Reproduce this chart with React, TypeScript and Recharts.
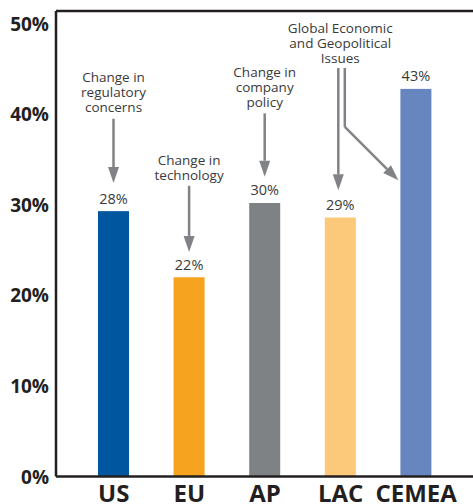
import { BarChart, Bar, XAxis, YAxis, ReferenceLine } from 'recharts';

const regions = ['US', 'EU', 'AP', 'LAC', 'CEMEA'];
const shares = [29.3, 22.0, 30.2, 28.6, 42.8];
const shareLabels = ['28%', '22%', '30%', '29%', '43%'];
const barColors = ['#00569f', '#f6a41f', '#7f8285', '#fcc87a', '#6786bf'];
const yTicks = [0, 10, 20, 30, 40, 50];
const Y_MAX = 51.4;

// callouts, heights in % units of the y axis
const notes = [
  { lines: ['Change in', 'regulatory', 'concerns'], textAt: 44.1, from: 39.5, to: 32.4, dx: 0 },
  { lines: ['Change in', 'technology'], textAt: 34.9, from: 32.1, to: 24.8, dx: 0 },
  { lines: ['Change in', 'company', 'policy'], textAt: 44.7, from: 40.1, to: 33.1, dx: 0 },
  { lines: ['Global Economic', 'and Geopolitical', 'Issues'], textAt: 49.5, from: 45.1, to: 31.6, dx: -2 },
  null,
];
// second leg of the LAC callout, pointing at CEMEA
const branch = { dx: 4.5, bendAt: 38.6, tipAt: 32.7 };

const data = regions.map((region, i) => ({ region, share: shares[i] }));

const W = 473;
const H = 504;
const Y_W = 56;
const TOP = 11;
const X_H = 27.5;
const PAD_L = 20;
const PAD_R = 19;
const STEP = (W - Y_W - PAD_L - PAD_R) / regions.length;

const DARK = '#231f20';
const ARROW = '#808285';
const NOTE_FONT = '"Open Sans", sans-serif';

function Arrow({ x1, y1, x2, y2 }: { x1: number; y1: number; x2: number; y2: number }) {
  const len = Math.hypot(x2 - x1, y2 - y1);
  const ux = (x2 - x1) / len;
  const uy = (y2 - y1) / len;
  const hl = 16;
  const hw = 5.5;
  const bx = x2 - ux * hl;
  const by = y2 - uy * hl;
  return (
    <g>
      <line x1={x1} y1={y1} x2={bx} y2={by} stroke={ARROW} strokeWidth={2.5} />
      <polygon
        points={`${x2},${y2} ${bx - uy * hw},${by + ux * hw} ${bx + uy * hw},${by - ux * hw}`}
        fill={ARROW}
      />
    </g>
  );
}

function BarWithNote(props: any) {
  const { x, y, width, height } = props;
  const idx = regions.indexOf(props.payload?.region ?? props.region);
  const k = height / shares[idx];
  const base = y + height;
  const yv = (v: number) => base - v * k;
  const cx = x + width / 2;
  const note = notes[idx];
  return (
    <g>
      <rect x={x} y={y} width={width} height={height} fill={barColors[idx]} />
      <text
        x={cx}
        y={y - 13}
        textAnchor="middle"
        dominantBaseline="central"
        fontFamily={NOTE_FONT}
        fontSize={14.5}
        fill="#3a3a3a"
      >
        {shareLabels[idx]}
      </text>
      {note && (
        <g>
          <text
            x={cx}
            y={yv(note.textAt)}
            textAnchor="middle"
            dominantBaseline="central"
            fontFamily={NOTE_FONT}
            fontSize={13.5}
            fill="#3a3a3a"
          >
            {note.lines.map((line, i) => (
              <tspan key={line} x={cx} dy={i === 0 ? 0 : 15}>
                {line}
              </tspan>
            ))}
          </text>
          <Arrow x1={cx + note.dx} y1={yv(note.from)} x2={cx + note.dx} y2={yv(note.to)} />
          {idx === 3 && (
            <g>
              <line
                x1={cx + branch.dx}
                y1={yv(note.from)}
                x2={cx + branch.dx}
                y2={yv(branch.bendAt)}
                stroke={ARROW}
                strokeWidth={2.5}
              />
              <Arrow
                x1={cx + branch.dx}
                y1={yv(branch.bendAt)}
                x2={cx + STEP - width / 2 - 2}
                y2={yv(branch.tipAt)}
              />
            </g>
          )}
        </g>
      )}
    </g>
  );
}

function XTick(props: any) {
  const { x, y, payload } = props;
  return (
    <text
      x={x}
      y={y + 25.5}
      textAnchor="middle"
      fontFamily='"Open Sans", sans-serif'
      fontWeight={700}
      fontSize={24}
      fill={DARK}
    >
      {payload.value}
    </text>
  );
}

function YTick(props: any) {
  const { x, y, payload } = props;
  return (
    <text
      x={x}
      y={y}
      textAnchor="end"
      dominantBaseline="central"
      fontFamily='"Open Sans", sans-serif'
      fontWeight={700}
      fontSize={19}
      fill={DARK}
    >
      {`${payload.value}%`}
    </text>
  );
}

export default function App() {
  return (
    <div style={{ position: 'absolute', left: 0, top: 0, background: '#fff' }}>
      <BarChart width={W} height={H} data={data} margin={{ top: TOP, right: 0, bottom: 0, left: 0 }}>
        <XAxis
          dataKey="region"
          height={X_H}
          padding={{ left: PAD_L, right: PAD_R }}
          tickLine={false}
          tickSize={0}
          tickMargin={0}
          axisLine={{ stroke: DARK, strokeWidth: 2.5 }}
          tick={<XTick />}
          interval={0}
        />
        <YAxis
          width={Y_W}
          domain={[0, Y_MAX]}
          ticks={yTicks}
          tickLine={false}
          tickSize={0}
          tickMargin={7}
          axisLine={{ stroke: DARK, strokeWidth: 2.5 }}
          tick={<YTick />}
        />
        <ReferenceLine y={Y_MAX} stroke={DARK} strokeWidth={2.5} />
        <Bar dataKey="share" barSize={31} isAnimationActive={false} shape={<BarWithNote />} />
      </BarChart>
    </div>
  );
}
